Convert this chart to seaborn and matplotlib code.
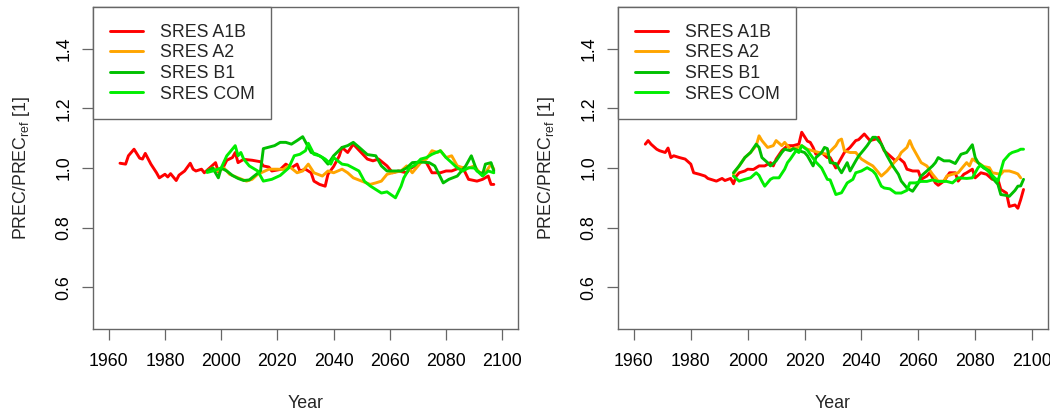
import matplotlib
matplotlib.use('Agg')
import matplotlib.pyplot as plt
import seaborn as sns
import pandas as pd
from matplotlib.lines import Line2D

# ---- data ----
series_names = ['SRES A1B', 'SRES A2', 'SRES B1', 'SRES COM']
series_colors = ['#ff0000', '#ffa500', '#00c000', '#00ee00']

# left panel
left_a1b_years = [1964, 1966, 1967, 1969, 1971, 1972, 1973, 1975, 1977, 1978, 1980, 1981, 1982, 1984, 1985,
                  1987, 1989, 1990, 1991, 1993, 1994, 1996, 1998, 1999, 2001, 2002, 2004, 2005, 2006, 2008,
                  2011, 2014, 2015, 2017, 2018, 2021, 2023, 2025, 2027, 2028, 2030, 2032, 2033, 2035, 2037,
                  2038, 2040, 2042, 2043, 2045, 2047, 2050, 2052, 2054, 2056, 2059, 2061, 2063, 2066, 2067,
                  2070, 2072, 2073, 2075, 2078, 2080, 2082, 2085, 2086, 2088, 2091, 2093, 2095, 2096, 2097]
left_a1b_vals = [1.016, 1.013, 1.041, 1.063, 1.033, 1.030, 1.049, 1.013, 0.984, 0.967, 0.979, 0.970, 0.981, 0.958, 0.976,
                 0.990, 1.016, 0.996, 0.990, 0.996, 0.984, 1.001, 1.018, 0.987, 1.007, 1.026, 1.035, 1.052, 1.018, 1.029,
                 1.026, 1.021, 1.007, 1.003, 0.990, 0.995, 1.013, 1.001, 1.013, 0.990, 0.996, 0.984, 0.956, 0.945, 0.939,
                 0.979, 1.005, 1.040, 1.069, 1.052, 1.080, 1.050, 1.030, 1.024, 1.030, 1.007, 0.984, 0.990, 0.984, 0.996,
                 1.013, 1.024, 1.018, 0.984, 0.984, 0.990, 0.990, 1.001, 1.001, 0.962, 0.956, 0.962, 0.973, 0.945, 0.945]

left_a2_years = [1995, 1997, 1999, 2001, 2003, 2006, 2009, 2011, 2013, 2017, 2020, 2022, 2024, 2027, 2029,
                 2031, 2033, 2036, 2038, 2040, 2043, 2045, 2047, 2050, 2053, 2055, 2057, 2059, 2061, 2064,
                 2066, 2068, 2071, 2073, 2075, 2077, 2078, 2080, 2082, 2084, 2086, 2087, 2090, 2092, 2094,
                 2096, 2097]
left_a2_vals = [0.990, 1.000, 0.990, 1.000, 0.979, 0.967, 0.956, 0.962, 0.979, 0.996, 0.996, 0.995, 1.007, 0.984, 0.990,
                1.013, 0.984, 0.973, 0.990, 0.984, 0.996, 0.984, 0.967, 0.956, 0.945, 0.950, 0.956, 0.979, 0.984, 0.990,
                1.007, 0.984, 1.018, 1.030, 1.058, 1.052, 1.058, 1.035, 1.041, 1.007, 1.001, 0.996, 1.007, 0.984, 0.984,
                1.013, 0.996]

left_b1_years = [1995, 1997, 1999, 2000, 2002, 2004, 2006, 2008, 2010, 2012, 2014, 2015, 2017, 2019, 2021,
                 2023, 2025, 2027, 2029, 2031, 2032, 2034, 2036, 2038, 2040, 2043, 2045, 2047, 2049, 2052,
                 2055, 2057, 2059, 2061, 2064, 2066, 2068, 2071, 2074, 2076, 2079, 2081, 2084, 2087, 2089,
                 2091, 2093, 2094, 2096, 2097]
left_b1_vals = [0.990, 1.000, 0.967, 1.000, 0.990, 0.975, 0.965, 0.958, 0.960, 0.975, 0.990, 1.065, 1.070, 1.075, 1.086,
                1.086, 1.080, 1.092, 1.105, 1.070, 1.052, 1.046, 1.035, 1.013, 1.041, 1.069, 1.075, 1.086, 1.070, 1.045,
                1.041, 1.007, 0.990, 0.990, 0.990, 1.000, 1.018, 1.020, 1.018, 1.007, 0.950, 0.962, 0.973, 1.007, 1.041,
                0.990, 0.979, 1.013, 1.018, 0.990]

left_com_years = [1995, 1997, 2000, 2002, 2003, 2005, 2006, 2007, 2008, 2010, 2013, 2015, 2018, 2021, 2024,
                  2026, 2028, 2030, 2031, 2033, 2035, 2037, 2039, 2040, 2043, 2045, 2047, 2049, 2051, 2053,
                  2055, 2057, 2059, 2062, 2064, 2065, 2067, 2069, 2071, 2073, 2075, 2078, 2080, 2082, 2084,
                  2086, 2088, 2090, 2093, 2095, 2097]
left_com_vals = [0.985, 0.990, 1.000, 1.041, 1.052, 1.075, 1.041, 1.052, 1.030, 1.007, 0.990, 0.956, 0.962, 0.975, 1.000,
                 1.041, 1.046, 1.058, 1.083, 1.046, 1.041, 1.030, 1.013, 1.035, 1.013, 1.010, 1.000, 0.990, 0.955, 0.940,
                 0.928, 0.916, 0.920, 0.900, 0.939, 0.967, 1.000, 1.010, 1.030, 1.035, 1.046, 1.058, 1.035, 1.018, 1.000,
                 0.990, 1.001, 1.000, 0.973, 0.990, 0.984]

# right panel
right_a1b_years = [1964, 1965, 1966, 1968, 1969, 1971, 1972, 1973, 1974, 1976, 1978, 1980, 1981, 1983, 1985,
                   1986, 1987, 1989, 1991, 1992, 1994, 1995, 1996, 1997, 1999, 2000, 2002, 2004, 2006, 2008,
                   2009, 2010, 2012, 2014, 2016, 2018, 2019, 2021, 2022, 2023, 2024, 2026, 2028, 2029, 2031,
                   2032, 2034, 2036, 2038, 2039, 2041, 2043, 2045, 2046, 2048, 2050, 2052, 2053, 2055, 2056,
                   2058, 2060, 2061, 2063, 2064, 2066, 2067, 2069, 2071, 2073, 2074, 2076, 2077, 2079, 2080,
                   2082, 2084, 2086, 2088, 2089, 2091, 2092, 2094, 2095, 2096, 2097]
right_a1b_vals = [1.080, 1.092, 1.080, 1.063, 1.058, 1.052, 1.067, 1.035, 1.041, 1.035, 1.030, 1.013, 0.984, 0.979, 0.973,
                  0.965, 0.962, 0.956, 0.965, 0.958, 0.965, 0.947, 0.973, 0.984, 0.990, 0.996, 0.995, 1.007, 1.007, 1.018,
                  1.007, 1.030, 1.058, 1.075, 1.075, 1.080, 1.120, 1.090, 1.086, 1.069, 1.046, 1.052, 1.035, 1.035, 1.000,
                  1.018, 1.052, 1.069, 1.092, 1.095, 1.114, 1.092, 1.097, 1.103, 1.058, 1.041, 1.024, 1.035, 1.018, 0.996,
                  0.990, 0.990, 0.962, 0.973, 0.984, 0.950, 0.942, 0.956, 0.984, 0.984, 0.956, 0.979, 0.984, 0.996, 0.967,
                  0.984, 0.979, 0.962, 0.962, 0.928, 0.916, 0.871, 0.876, 0.865, 0.894, 0.928]

right_a2_years = [1995, 1997, 1999, 2001, 2003, 2004, 2005, 2007, 2009, 2010, 2012, 2013, 2015, 2018, 2019,
                  2021, 2025, 2028, 2031, 2032, 2033, 2034, 2036, 2038, 2040, 2042, 2044, 2045, 2047, 2049,
                  2051, 2053, 2054, 2056, 2057, 2058, 2060, 2061, 2063, 2065, 2067, 2069, 2070, 2072, 2074,
                  2076, 2077, 2078, 2079, 2081, 2083, 2085, 2086, 2089, 2090, 2092, 2094, 2095, 2096]
right_a2_vals = [0.979, 1.007, 1.035, 1.052, 1.075, 1.108, 1.092, 1.069, 1.075, 1.092, 1.075, 1.086, 1.063, 1.070, 1.075,
                 1.063, 1.052, 1.046, 1.075, 1.092, 1.097, 1.058, 1.052, 1.052, 1.030, 1.018, 1.007, 0.996, 0.973, 0.990,
                 1.013, 1.035, 1.052, 1.069, 1.092, 1.069, 1.035, 1.018, 1.007, 0.979, 0.956, 0.956, 0.973, 0.979, 0.984,
                 1.007, 1.018, 1.007, 1.030, 1.018, 1.005, 1.001, 0.984, 0.979, 0.990, 0.990, 0.984, 0.980, 0.967]

right_b1_years = [1995, 1997, 1999, 2001, 2003, 2004, 2005, 2007, 2008, 2010, 2012, 2013, 2015, 2016, 2018,
                  2020, 2021, 2023, 2024, 2026, 2027, 2028, 2029, 2031, 2033, 2035, 2036, 2038, 2039, 2041,
                  2042, 2044, 2045, 2047, 2049, 2051, 2053, 2054, 2056, 2058, 2060, 2061, 2063, 2065, 2066,
                  2067, 2069, 2071, 2073, 2075, 2077, 2079, 2080, 2081, 2083, 2085, 2086, 2088, 2089, 2091,
                  2092, 2094, 2095, 2096, 2097]
right_b1_vals = [0.984, 1.007, 1.035, 1.052, 1.080, 1.069, 1.035, 1.018, 1.007, 1.024, 1.052, 1.063, 1.058, 1.065, 1.058,
                 1.052, 1.041, 1.007, 1.035, 1.052, 1.069, 1.065, 1.018, 1.015, 0.984, 1.018, 0.990, 1.024, 1.040, 1.063,
                 1.075, 1.103, 1.103, 1.080, 1.041, 1.007, 0.979, 0.956, 0.933, 0.922, 0.950, 0.973, 0.990, 1.007, 1.018,
                 1.035, 1.024, 1.024, 1.015, 1.046, 1.052, 1.078, 1.035, 1.018, 1.000, 0.990, 0.967, 0.945, 0.911, 0.908,
                 0.905, 0.925, 0.939, 0.940, 0.962]

right_com_years = [1995, 1997, 1999, 2001, 2003, 2004, 2005, 2006, 2008, 2009, 2011, 2013, 2014, 2015, 2017,
                   2018, 2019, 2021, 2022, 2024, 2026, 2028, 2029, 2031, 2033, 2035, 2037, 2038, 2040, 2042,
                   2044, 2045, 2047, 2048, 2050, 2052, 2054, 2056, 2057, 2059, 2061, 2063, 2065, 2067, 2070,
                   2072, 2074, 2077, 2079, 2081, 2082, 2084, 2086, 2088, 2089, 2090, 2092, 2093, 2095, 2096,
                   2097]
right_com_vals = [0.973, 0.956, 0.962, 0.967, 0.984, 0.975, 0.956, 0.939, 0.962, 0.967, 0.967, 0.996, 1.018, 1.030, 1.058,
                  1.052, 1.075, 1.060, 1.046, 1.020, 1.000, 0.962, 0.960, 0.911, 0.917, 0.950, 0.962, 0.984, 0.990, 1.001,
                  0.990, 0.979, 0.939, 0.933, 0.930, 0.916, 0.916, 0.925, 0.950, 0.950, 0.955, 0.955, 0.960, 0.955, 0.955,
                  0.950, 0.967, 0.965, 0.967, 1.001, 1.010, 0.995, 0.975, 0.956, 0.990, 1.024, 1.046, 1.052, 1.058, 1.063,
                  1.063]

x_ticks = [1960, 1980, 2000, 2020, 2040, 2060, 2080, 2100]
y_ticks = [0.6, 0.8, 1.0, 1.2, 1.4]


def make_frame(parts):
    frames = []
    for name, years, vals in parts:
        frames.append(pd.DataFrame({'Year': years, 'ratio': vals, 'scenario': name}))
    return pd.concat(frames, ignore_index=True)


left_df = make_frame([
    ('SRES A1B', left_a1b_years, left_a1b_vals),
    ('SRES A2', left_a2_years, left_a2_vals),
    ('SRES B1', left_b1_years, left_b1_vals),
    ('SRES COM', left_com_years, left_com_vals),
])
right_df = make_frame([
    ('SRES A1B', right_a1b_years, right_a1b_vals),
    ('SRES A2', right_a2_years, right_a2_vals),
    ('SRES B1', right_b1_years, right_b1_vals),
    ('SRES COM', right_com_years, right_com_vals),
])

sns.set_theme(style='white')
plt.rcParams['font.family'] = ['Liberation Sans', 'DejaVu Sans']
plt.rcParams['mathtext.default'] = 'regular'

fig = plt.figure(figsize=(10.5, 4.16), dpi=100)
ax_h = 322 / 416
ax_bottom = 1 - 329 / 416
axes = [fig.add_axes([93 / 1050, ax_bottom, 425 / 1050, ax_h]),
        fig.add_axes([618 / 1050, ax_bottom, 430 / 1050, ax_h])]

fs = 12.8
box_col = '#666666'
for ax, df in zip(axes, [left_df, right_df]):
    sns.lineplot(data=df, x='Year', y='ratio', hue='scenario', hue_order=series_names,
                 palette=series_colors, estimator=None, linewidth=2.1, legend=False, ax=ax)
    ax.set_xlim(1954.4, 2105.6)
    ax.set_ylim(0.46, 1.54)
    ax.set_xticks(x_ticks)
    ax.set_yticks(y_ticks)
    ax.set_xticklabels([str(t) for t in x_ticks], fontsize=fs)
    ax.set_yticklabels([f'{t:.1f}' for t in y_ticks], fontsize=fs, rotation=90, va='center')
    ax.tick_params(axis='both', direction='out', length=8, width=0.9, color=box_col,
                   labelcolor='black', bottom=True, left=True)
    ax.tick_params(axis='x', pad=9)
    ax.tick_params(axis='y', pad=7)
    for sp in ax.spines.values():
        sp.set_visible(True)
        sp.set_color(box_col)
        sp.set_linewidth(1.0)
    ax.set_xlabel('Year', fontsize=fs)
    ax.xaxis.set_label_coords(0.5, -0.205)
    ax.set_ylabel(r'PREC/PREC$_{ref}$ [1]', fontsize=fs)
    ax.yaxis.set_label_coords(-0.143 * 425 / ax.get_position().width / 1050, 0.5)

    handles = [Line2D([0], [0], color=c, lw=2.1) for c in series_colors]
    leg = ax.legend(handles, series_names, loc='upper left', bbox_to_anchor=(0, 1),
                    borderaxespad=0, frameon=True, fancybox=False, framealpha=1,
                    edgecolor=box_col, fontsize=fs, handlelength=1.85, handletextpad=0.95,
                    borderpad=0.95, labelspacing=0.2)
    leg.get_frame().set_linewidth(1.0)

fig.savefig('out.png', dpi=100)
